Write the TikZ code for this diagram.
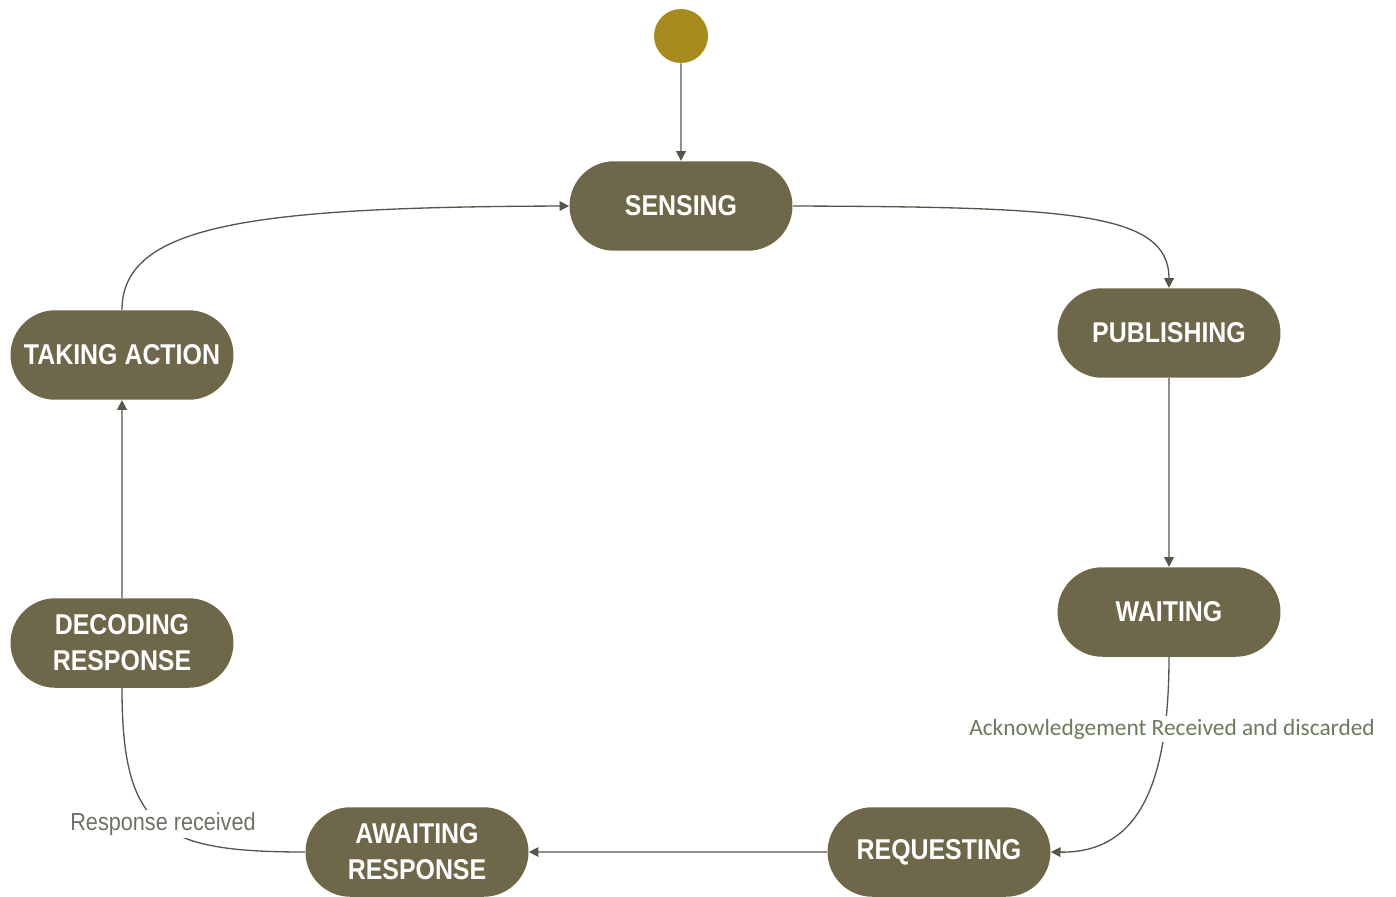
\documentclass[tikz,border=0pt]{standalone}
\usepackage{fontspec}
\setmainfont{Liberation Sans}
\newfontfamily\statefont[FakeStretch=0.87]{Liberation Sans}
\newfontfamily\respfont[FakeStretch=0.88]{Liberation Sans}
\newfontfamily\labelfont{Carlito}
\usetikzlibrary{shapes.misc,arrows.meta}
\definecolor{statefill}{HTML}{6F6749}
\definecolor{startfill}{HTML}{A68A1E}
\definecolor{edgecol}{HTML}{55554A}
\definecolor{ackcol}{HTML}{6B7B5C}
\definecolor{respcol}{HTML}{707066}
\tikzset{
  state/.style={rounded rectangle, fill=statefill, text=white,
    minimum width=4.46cm, minimum height=1.79cm, inner sep=0pt,
    font=\statefont\fontsize{16.3}{20.4}\selectfont\bfseries, align=center},
  initial/.style={circle, fill=startfill, minimum size=1.08cm, inner sep=0pt},
  arr/.style={draw=edgecol, line width=0.75pt, -{Triangle[length=5.5pt,width=5.5pt]}},
  plain/.style={draw=edgecol, line width=0.75pt},
  acklabel/.style={fill=white, inner sep=1.5pt, text=ackcol,
    font=\labelfont\fontsize{13.3}{15}\selectfont},
  resplabel/.style={fill=white, inner sep=1.5pt, text=respcol,
    font=\respfont\fontsize{14}{16}\selectfont}
}
\begin{document}
\begin{tikzpicture}[x=0.02cm, y=-0.02cm]
  \useasboundingbox (0,0) rectangle (1396,896);

  % states
  \node[initial] (start) at (681,36) {};
  \node[state] (sens) at (681,206) {SENSING};
  \node[state] (pub) at (1169,333) {PUBLISHING};
  \node[state] (wait) at (1169,612) {WAITING};
  \node[state] (req) at (939,852) {REQUESTING};
  \node[state] (await) at (417,852) {AWAITING\\RESPONSE};
  \node[state] (dec) at (122,643) {DECODING\\RESPONSE};
  \node[state] (act) at (122,355) {TAKING ACTION};

  % transitions
  \draw[arr] (start) -- (sens);
  \draw[arr] (sens.east) .. controls (1070,207) and (1169,212) .. (pub.north);
  \draw[arr] (pub) -- (wait);
  \draw[arr] (wait.south) .. controls (1169,800) and (1130,853) .. (req.east);
  \draw[arr] (req) -- (await);
  \draw[plain] (await.west) .. controls (160,852) and (122,830) .. (dec.south);
  \draw[arr] (dec) -- (act);
  \draw[arr] (act.north) .. controls (122,225) and (250,207) .. (sens.west);

  % transition labels
  \node[acklabel] (ack) at (1172,729) {Acknowledgement Received and discarded};
  \node[resplabel] (resp) at (163,824) {Response received};
\end{tikzpicture}
\end{document}
